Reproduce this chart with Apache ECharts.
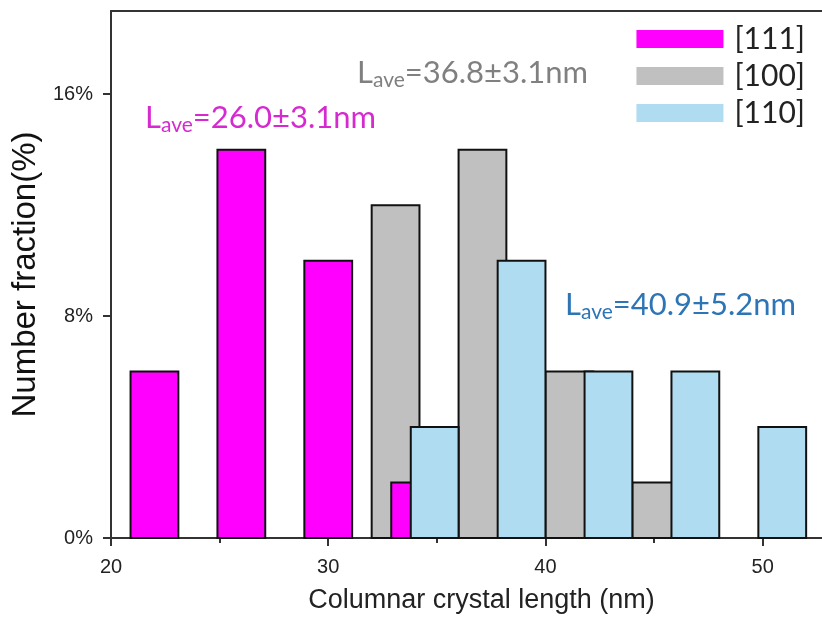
<!DOCTYPE html>
<html><head><meta charset="utf-8">
<script src="https://cdn.jsdelivr.net/npm/echarts@6/dist/echarts.min.js"></script>
<style>html,body{margin:0;padding:0;background:#fff}#c{width:822px;height:619px}</style>
</head><body><div id="c"></div>
<script>
// bins: [start, end, percent]
const seriesNames = ['[111]', '[100]', '[110]'];
const bins111 = [[20.9, 23.1, 6], [24.9, 27.1, 14], [28.9, 31.1, 10], [32.9, 35.1, 2]];
const bins100 = [[32.0, 34.2, 12], [36.0, 38.2, 14], [40.0, 42.2, 6], [44.0, 46.2, 2]];
const bins110 = [[33.8, 36.0, 4], [37.8, 40.0, 10], [41.8, 44.0, 6], [45.8, 48.0, 6], [49.8, 52.0, 4]];
const xMajorTicks = [20, 30, 40, 50];
const xMinorTicks = [25, 35, 45];
const yTicks = [0, 8, 16];
const annotations = [
  {text: '26.0±3.1nm', color: '#d62ad0'},
  {text: '36.8±3.1nm', color: '#808080'},
  {text: '40.9±5.2nm', color: '#2e75b6'}
];
const colors = {'[111]': '#ff00ff', '[100]': '#c0c0c0', '[110]': '#b0dcf2'};

function renderBin(params, api) {
  const p0 = api.coord([api.value(0), api.value(2)]);
  const p1 = api.coord([api.value(1), 0]);
  return {
    type: 'rect',
    shape: {x: p0[0], y: p0[1], width: p1[0] - p0[0], height: p1[1] - p0[1]},
    style: {fill: api.visual('color'), stroke: '#111', lineWidth: 2}
  };
}
function binSeries(name, data) {
  return {
    name: name, type: 'custom', renderItem: renderBin, data: data,
    encode: {x: [0, 1], y: 2}, itemStyle: {color: colors[name]}
  };
}
function annot(a, x, y) {
  return {
    type: 'text', left: x, top: y, z: 100,
    style: {
      text: '{l|L}{s|ave}{l|=' + a.text + '}',
      rich: {
        l: {fontFamily: 'Lato', fontSize: 31, fill: a.color, color: a.color},
        s: {fontFamily: 'Lato', fontSize: 21, fill: a.color, color: a.color, padding: [15, 0, 0, 0]}
      }
    }
  };
}
const axisFont = {fontFamily: 'Liberation Sans', fontSize: 20, color: '#222'};
const XMAX = 52.73;
const chart = echarts.init(document.getElementById('c'));
chart.setOption({
  animation: false,
  backgroundColor: '#fff',
  grid: {left: 111, top: 11, bottom: 75, right: 0, show: false},
  legend: {
    data: seriesNames, right: 12, top: 19, orient: 'vertical', itemWidth: 87, itemHeight: 18, itemGap: 7,
    icon: 'rect', itemStyle: {borderWidth: 0},
    textStyle: {fontFamily: 'Lato', fontSize: 30, color: '#222', padding: [0, 0, 0, 6]}
  },
  xAxis: [{
    type: 'value', min: 20, max: XMAX, interval: 10,
    name: 'Columnar crystal length (nm)', nameLocation: 'middle', nameGap: 49,
    nameTextStyle: {fontFamily: 'Liberation Sans', fontSize: 27, color: '#222', padding: [0, 0, 0, 30]},
    axisLine: {show: true, onZero: false, lineStyle: {color: '#333', width: 2}},
    axisTick: {show: true, length: 8, customValues: xMajorTicks, lineStyle: {color: '#333', width: 2}},
    axisLabel: {customValues: xMajorTicks, margin: 19, ...axisFont},
    splitLine: {show: false}
  }, {
    type: 'value', min: 20, max: XMAX, position: 'bottom', gridIndex: 0,
    axisLine: {show: false},
    axisTick: {show: true, length: 5, customValues: xMinorTicks, lineStyle: {color: '#333', width: 2}},
    axisLabel: {show: false}, splitLine: {show: false}
  }, {
    type: 'value', min: 20, max: XMAX, position: 'top', gridIndex: 0,
    axisLine: {show: true, lineStyle: {color: '#333', width: 2}},
    axisTick: {show: false}, axisLabel: {show: false}, splitLine: {show: false}
  }],
  yAxis: {
    type: 'value', min: 0, max: 19, interval: 8,
    name: 'Number fraction(%)', nameLocation: 'middle', nameGap: 67,
    nameTextStyle: {fontFamily: 'Liberation Sans', fontSize: 33, color: '#111', padding: [0, 0, 0, 0]},
    axisLine: {show: true, lineStyle: {color: '#333', width: 2}},
    axisTick: {show: true, length: 8, customValues: yTicks, lineStyle: {color: '#333', width: 2}},
    axisLabel: {customValues: yTicks, margin: 18, formatter: v => v + '%', ...axisFont},
    splitLine: {show: false}
  },
  series: [binSeries('[100]', bins100), binSeries('[111]', bins111), binSeries('[110]', bins110)],
  graphic: [annot(annotations[0], 145, 102), annot(annotations[1], 357, 57), annot(annotations[2], 565, 289)]
});
</script></body></html>
